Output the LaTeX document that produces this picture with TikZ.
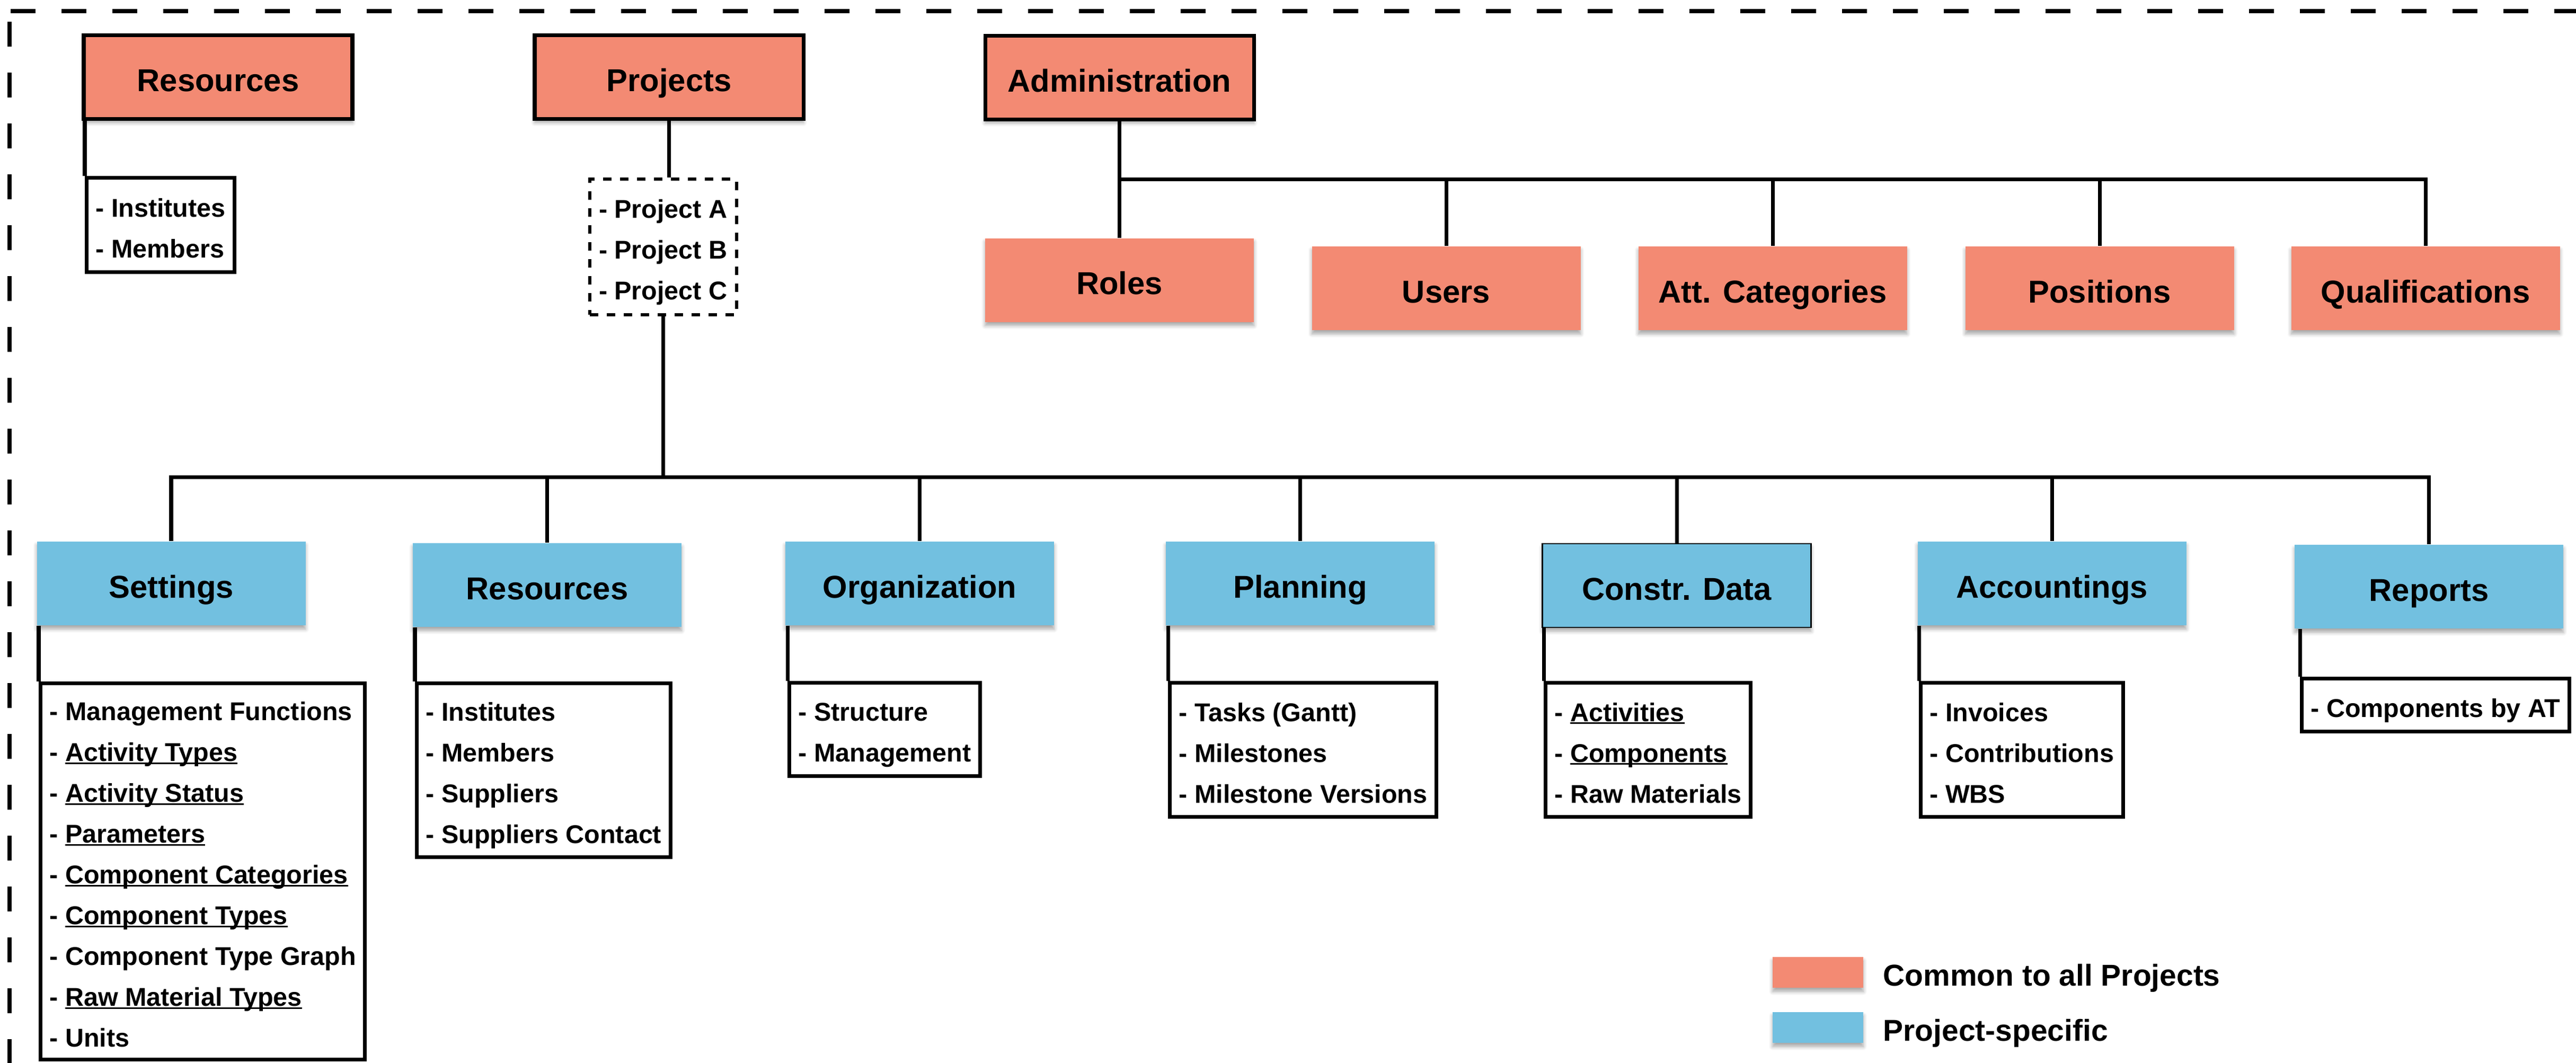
\documentclass[tikz,border=0pt]{standalone}
\usepackage{fontspec}
\setmainfont{Liberation Sans}
\usepackage{xcolor}
\usepackage{tikz}
\usetikzlibrary{shadows.blur}
\definecolor{commoncolor}{HTML}{F38A73}
\definecolor{projcolor}{HTML}{72C0E0}
\newlength{\ulwidth}
\newcommand{\dashitem}[1]{\rule[-0.2em]{0pt}{1.35em}- #1}
\newcommand{\ulentry}[1]{\settowidth{\ulwidth}{#1}\rlap{\rule[-0.11em]{\ulwidth}{0.065em}}#1}
\tikzset{
  softshadow/.style={blur shadow={shadow xshift=0cm, shadow yshift=-0.07cm, shadow blur radius=0.07cm, shadow blur steps=6, shadow opacity=35}},
  areabox/.style={rectangle, inner sep=0pt, minimum width=5.07cm, minimum height=1.58cm, text height=0.6cm, text depth=0.06cm, font=\fontsize{17}{20}\selectfont\bfseries, softshadow},
  commonbox/.style={areabox, fill=commoncolor},
  projbox/.style={areabox, fill=projcolor},
  topbox/.style={commonbox, draw, line width=2pt},
  listbox/.style={draw, rectangle, line width=2pt, fill=white, align=left, anchor=north west, inner xsep=0.17cm, inner ysep=0pt, font=\fontsize{13.8}{21.9}\selectfont\bfseries},
  link/.style={line width=2pt},
  frame/.style={line width=0.075cm, dash pattern=on 0.47cm off 0.49cm},
  legendbox/.style={rectangle, inner sep=0pt, minimum width=1.71cm, minimum height=0.58cm, softshadow},
  legendtext/.style={anchor=west, inner sep=0pt, text height=0.57cm, text depth=0.06cm, font=\fontsize{16.2}{19}\selectfont\bfseries}
}

\begin{document}
\begin{tikzpicture}%
\useasboundingbox (0,0) rectangle (48.61,-20.05);%
\draw[frame] (0.20,-0.21) -- (49.00,-0.21);%
\draw[frame] (0.18,-0.41) -- (0.18,-20.60);%
% common to all projects
\node[topbox] (resTop) at (4.115,-1.455) {Resources};%
\node[topbox] (projTop) at (12.625,-1.455) {Projects};%
\node[topbox] (admin) at (21.125,-1.46) {Administration};%
\node[listbox, minimum height=1.78cm] (resTopList) at (1.60,-3.32) {\dashitem{Institutes}\\\dashitem{Members}};%
\node[listbox, minimum height=2.56cm, line width=1.7pt, dash pattern=on 0.16cm off 0.16cm] (projList) at (11.10,-3.35) {\dashitem{Project A}\\\dashitem{Project B}\\\dashitem{Project C}};%
\node[commonbox] (roles) at (21.125,-5.285) {Roles};%
\node[commonbox] (users) at (27.29,-5.44) {Users};%
\node[commonbox] (attCat) at (33.45,-5.44) {Att. Categories};%
\node[commonbox] (positions) at (39.62,-5.44) {Positions};%
\node[commonbox] (qualif) at (45.77,-5.44) {Qualifications};%
% project-specific
\node[projbox] (settings) at (3.23,-11.01) {Settings};%
\node[projbox] (resBot) at (10.325,-11.04) {Resources};%
\node[projbox] (organization) at (17.355,-11.01) {Organization};%
\node[projbox] (planning) at (24.535,-11.01) {Planning};%
\node[projbox, draw, line width=0.7pt] (constr) at (31.64,-11.05) {Constr. Data};%
\node[projbox] (accountings) at (38.72,-11.01) {Accountings};%
\node[projbox] (reports) at (45.835,-11.07) {Reports};%
\node[listbox, minimum height=7.10cm] (settingsList) at (0.73,-12.86) {\dashitem{Management Functions}\\\dashitem{\ulentry{Activity Types}}\\\dashitem{\ulentry{Activity Status}}\\\dashitem{\ulentry{Parameters}}\\\dashitem{\ulentry{Component Categories}}\\\dashitem{\ulentry{Component Types}}\\\dashitem{Component Type Graph}\\\dashitem{\ulentry{Raw Material Types}}\\\dashitem{Units}};%
\node[listbox, minimum height=3.28cm] (resBotList) at (7.83,-12.86) {\dashitem{Institutes}\\\dashitem{Members}\\\dashitem{Suppliers}\\\dashitem{Suppliers Contact}};%
\node[listbox, minimum height=1.76cm] (orgList) at (14.86,-12.85) {\dashitem{Structure}\\\dashitem{Management}};%
\node[listbox, minimum height=2.53cm] (planList) at (22.04,-12.85) {\dashitem{Tasks (Gantt)}\\\dashitem{Milestones}\\\dashitem{Milestone Versions}};%
\node[listbox, minimum height=2.53cm] (constrList) at (29.13,-12.85) {\dashitem{\ulentry{Activities}}\\\dashitem{\ulentry{Components}}\\\dashitem{Raw Materials}};%
\node[listbox, minimum height=2.53cm] (accList) at (36.21,-12.85) {\dashitem{Invoices}\\\dashitem{Contributions}\\\dashitem{WBS}};%
\node[listbox, minimum height=1.00cm] (repList) at (43.40,-12.77) {\dashitem{Components by AT}};%
% connectors
\draw[link] (resTopList.north west) -- (resTopList.north west |- resTop.south);%
\draw[link] (projTop.south) -- (projTop.south |- projList.north);%
\coordinate (adminBus) at (21.125,-3.38);%
\draw[link] (admin.south) -- (adminBus) -| (qualif.north);%
\draw[link] (adminBus) -- (roles.north);%
\draw[link] (adminBus) -| (users.north);%
\draw[link] (adminBus) -| (attCat.north);%
\draw[link] (adminBus) -| (positions.north);%
\coordinate (bus) at (projList.south |- 0,-9.00);%
\draw[link] (projList.south) -- (bus);%
\draw[link] (settings.north) |- (bus) -| (reports.north);%
\draw[link] (bus) -| (resBot.north);%
\draw[link] (bus) -| (organization.north);%
\draw[link] (bus) -| (planning.north);%
\draw[link] (bus) -| (constr.north);%
\draw[link] (bus) -| (accountings.north);%
\draw[link] (settingsList.north west) -- (settingsList.north west |- settings.south);%
\draw[link] (resBotList.north west) -- (resBotList.north west |- resBot.south);%
\draw[link] (orgList.north west) -- (orgList.north west |- organization.south);%
\draw[link] (planList.north west) -- (planList.north west |- planning.south);%
\draw[link] (constrList.north west) -- (constrList.north west |- constr.south);%
\draw[link] (accList.north west) -- (accList.north west |- accountings.south);%
\draw[link] (repList.north west) -- (repList.north west |- reports.south);%
% legend
\node[legendbox, fill=commoncolor] (keyCommon) at (34.305,-18.35) {};%
\node[legendtext] (keyCommonText) at (35.53,-18.35) {Common to all Projects};%
\node[legendbox, fill=projcolor] (keyProj) at (34.305,-19.39) {};%
\node[legendtext] (keyProjText) at (35.53,-19.39) {Project-specific};%
\end{tikzpicture}
\end{document}
